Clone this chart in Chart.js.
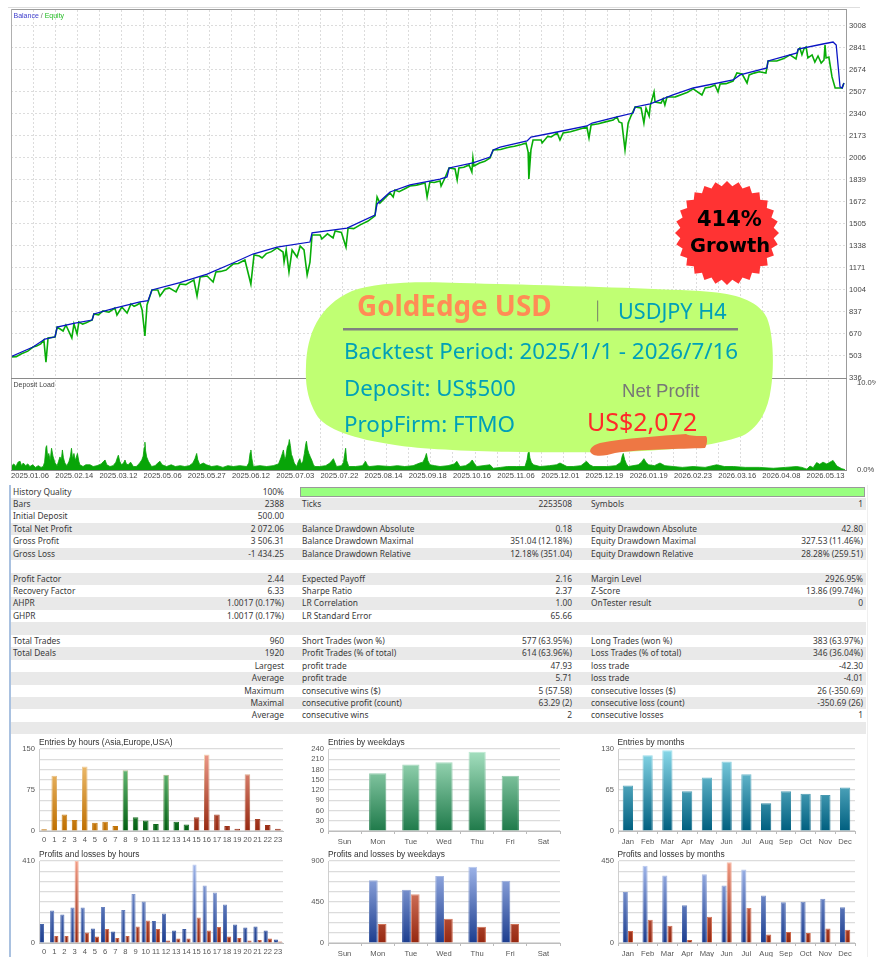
<!DOCTYPE html>
<html>
<head>
<meta charset="utf-8">
<title>GoldEdge USD backtest</title>
<script src="https://cdn.jsdelivr.net/npm/chart.js@4/dist/chart.umd.min.js"></script>
<style>
html, body { margin: 0; padding: 0; background: #fff; }
#page { position: relative; width: 876px; height: 968px; overflow: hidden; background: #fff; }
#page canvas { position: absolute; }
.txt { position: absolute; white-space: nowrap; line-height: 1; }
.box { position: absolute; }
.row { position: absolute; left: 11px; width: 855px; height: 12.44px; font: 8.4px/12.44px "Noto Sans", sans-serif; color: #3a3a3a; }
.row span { position: absolute; top: 0; white-space: nowrap; }
.title { position: absolute; font: 8.4px/1 "Liberation Sans", sans-serif; color: #333; white-space: nowrap; }
</style>
</head>
<body>
<div id="page"></div>
<script>
// equity graph, x in bars, y in account currency
const totalBars = 2388;
const gridStepBars = 63.2;
const yTickLabels = [336, 503, 670, 837, 1004, 1171, 1338, 1505, 1672, 1839, 2006, 2173, 2340, 2507, 2674, 2841, 3008];
const dateLabels = ['2025.01.06', '2025.02.14', '2025.03.12', '2025.05.06', '2025.05.27', '2025.06.12', '2025.07.03', '2025.07.22', '2025.08.14', '2025.09.18', '2025.10.16', '2025.11.06', '2025.12.01', '2025.12.19', '2026.01.19', '2026.02.23', '2026.03.16', '2026.04.08', '2026.05.13'];

const balanceBars = [0, 63, 97, 126, 132, 183, 232, 237, 297, 369, 392, 403, 483, 561, 635, 692, 761, 855, 861, 961, 1041, 1047, 1084, 1141, 1227, 1247, 1253, 1321, 1370, 1379, 1399, 1476, 1487, 1562, 1647, 1662, 1733, 1779, 1785, 1828, 1893, 1951, 2065, 2085, 2162, 2165, 2248, 2251, 2322, 2351, 2360, 2371, 2377, 2382];
const balanceValues = [498, 571, 632, 649, 723, 753, 776, 822, 867, 913, 923, 1004, 1059, 1125, 1209, 1277, 1330, 1368, 1437, 1474, 1573, 1657, 1748, 1801, 1846, 1862, 1930, 1968, 2013, 2067, 2089, 2135, 2165, 2203, 2249, 2271, 2317, 2347, 2393, 2416, 2484, 2537, 2598, 2636, 2689, 2742, 2803, 2833, 2871, 2886, 2863, 2545, 2537, 2575];

const equityBars = [
    0, 15, 30, 48, 63, 73, 85, 94, 100, 106,
    126, 132, 149, 157, 174, 180, 189, 194, 205, 215,
    232, 237, 250, 263, 280, 297, 303, 317, 332, 343,
    352, 360, 369, 375, 383, 389, 403, 420, 426, 440,
    452, 472, 483, 500, 510, 523, 532, 541, 561, 578,
    586, 600, 615, 635, 650, 669, 686, 695, 710, 718,
    730, 745, 761, 778, 781, 787, 795, 804, 818, 827,
    838, 847, 855, 861, 884, 889, 905, 921, 927, 945,
    958, 964, 980, 1000, 1020, 1041, 1047, 1055, 1084, 1093,
    1098, 1110, 1125, 1141, 1160, 1184, 1190, 1198, 1210, 1227,
    1230, 1241, 1253, 1270, 1276, 1281, 1295, 1310, 1318, 1321,
    1324, 1340, 1355, 1370, 1379, 1400, 1415, 1427, 1440, 1460,
    1473, 1479, 1481, 1487, 1493, 1516, 1519, 1535, 1545, 1562,
    1570, 1579, 1600, 1620, 1647, 1653, 1659, 1680, 1700, 1722,
    1733, 1739, 1747, 1756, 1765, 1773, 1785, 1802, 1810, 1816,
    1825, 1828, 1839, 1842, 1859, 1865, 1870, 1876, 1900, 1920,
    1935, 1951, 1976, 1985, 2000, 2013, 2022, 2028, 2045, 2065,
    2076, 2091, 2105, 2111, 2125, 2140, 2159, 2165, 2190, 2210,
    2228, 2245, 2251, 2256, 2262, 2268, 2274, 2279, 2291, 2299,
    2308, 2317, 2325, 2328, 2331, 2339, 2348, 2357, 2377, 2382
];
const equityValues = [
    495, 498, 520, 540, 571, 578, 595, 624, 457, 640,
    647, 723, 693, 738, 640, 746, 670, 761, 745, 755,
    776, 822, 815, 845, 835, 867, 814, 875, 829, 898,
    880, 890, 905, 852, 655, 890, 1004, 1004, 958, 1010,
    1020, 989, 1049, 1045, 1060, 1080, 958, 1103, 1110, 1065,
    1140, 1145, 1155, 1201, 1205, 1232, 1049, 1270, 1262, 1247,
    1280, 1295, 1323, 1292, 1216, 1308, 1141, 1308, 1254, 1338,
    1308, 1118, 1216, 1421, 1421, 1391, 1430, 1399, 1452, 1440,
    1330, 1474, 1470, 1500, 1525, 1566, 1710, 1664, 1740, 1710,
    1763, 1750, 1770, 1793, 1800, 1816, 1710, 1824, 1820, 1831,
    1793, 1854, 1930, 1922, 1839, 1930, 1935, 1953, 1899, 2006,
    1945, 1968, 1980, 2006, 2067, 2070, 2082, 2089, 2095, 2108,
    2120, 2051, 1846, 2067, 2142, 2142, 2120, 2170, 2165, 2196,
    2142, 2196, 2205, 2220, 2241, 2158, 2256, 2265, 2280, 2294,
    2317, 2279, 2271, 2067, 2271, 2324, 2393, 2385, 2271, 2385,
    2324, 2400, 2507, 2431, 2423, 2454, 2408, 2469, 2470, 2490,
    2505, 2530, 2484, 2537, 2545, 2560, 2507, 2567, 2570, 2590,
    2651, 2643, 2575, 2636, 2650, 2660, 2651, 2742, 2742, 2760,
    2788, 2757, 2826, 2840, 2790, 2835, 2848, 2765, 2788, 2734,
    2780, 2727, 2750, 2863, 2765, 2772, 2621, 2537, 2537, 2575
];

// deposit load pane, percent
const depositBars = [
    0, 8, 14, 20, 26, 30, 35, 42, 48, 54, 62, 70, 78, 86, 92, 96, 100, 102, 105, 108,
    112, 116, 120, 126, 132, 136, 140, 144, 147, 150, 154, 160, 166, 170, 173, 176, 180, 184, 190, 194,
    197, 206, 214, 226, 235, 246, 258, 265, 269, 274, 283, 292, 300, 304, 307, 311, 316, 322, 326, 330,
    335, 342, 350, 358, 366, 374, 378, 381, 383, 385, 388, 393, 402, 412, 420, 426, 432, 445, 458, 470,
    484, 497, 510, 520, 526, 531, 534, 540, 550, 559, 574, 590, 606, 620, 636, 654, 674, 680, 684, 686,
    689, 693, 712, 731, 750, 765, 772, 776, 779, 783, 786, 790, 794, 796, 799, 802, 805, 810, 817, 821,
    826, 830, 835, 839, 843, 845, 848, 852, 856, 860, 865, 869, 883, 900, 912, 918, 922, 926, 931, 945,
    951, 955, 957, 960, 966, 985, 1005, 1014, 1020, 1026, 1050, 1084, 1105, 1126, 1150, 1169, 1178, 1184, 1188, 1192,
    1198, 1212, 1227, 1250, 1268, 1275, 1284, 1300, 1312, 1319, 1326, 1332, 1350, 1370, 1379, 1400, 1420, 1446, 1470, 1476,
    1479, 1481, 1484, 1488, 1494, 1513, 1540, 1560, 1570, 1590, 1608, 1630, 1646, 1655, 1665, 1704, 1730, 1744, 1748, 1751,
    1755, 1760, 1765, 1794, 1803, 1810, 1816, 1823, 1840, 1856, 1870, 1894, 1920, 1951, 1985, 2018, 2040, 2066, 2100, 2140,
    2180, 2215, 2247, 2262, 2276, 2285, 2294, 2304, 2313, 2322, 2333, 2351, 2362, 2376, 2385
];
const depositValues = [
    0.4, 0.7, 0.4, 0.9, 1.0, 0.5, 0.8, 0.5, 0.7, 0.4, 0.6, 0.3, 0.5, 0.3, 0.4, 0.9, 2.6, 2.8, 1.4, 1.9,
    1.1, 2.5, 1.6, 0.8, 0.5, 1.0, 1.5, 1.2, 2.3, 1.4, 0.8, 0.5, 1.0, 1.6, 2.5, 1.3, 1.9, 1.1, 1.9, 1.0,
    0.6, 0.4, 0.6, 0.6, 0.4, 0.5, 0.7, 1.0, 1.15, 0.6, 0.4, 0.5, 0.9, 1.4, 1.7, 1.0, 0.6, 0.8, 1.15, 0.7,
    0.6, 0.9, 0.4, 0.4, 0.7, 1.15, 1.6, 2.6, 3.2, 2.2, 1.5, 1.0, 0.4, 0.5, 0.8, 1.0, 0.6, 0.4, 0.6, 0.4,
    0.5, 0.4, 0.5, 0.8, 1.3, 1.9, 1.2, 0.6, 0.8, 0.6, 0.4, 0.5, 0.3, 0.5, 0.4, 0.5, 0.4, 0.8, 2.0, 2.3,
    1.3, 0.4, 0.5, 0.4, 0.5, 0.7, 1.4, 1.9, 2.3, 1.2, 1.5, 2.6, 3.0, 3.5, 2.8, 1.8, 1.5, 0.8, 0.4, 0.9,
    1.3, 0.7, 1.0, 1.9, 3.0, 3.3, 2.4, 1.9, 1.5, 1.15, 0.6, 0.4, 0.4, 0.5, 0.8, 1.1, 1.3, 0.9, 0.4, 0.5,
    0.9, 2.0, 2.5, 1.1, 0.4, 0.4, 0.5, 1.0, 0.5, 0.4, 0.5, 0.4, 0.5, 0.4, 0.5, 0.8, 0.9, 1.4, 1.9, 1.1,
    0.6, 0.5, 0.4, 0.5, 0.7, 1.0, 0.4, 0.5, 0.8, 1.15, 0.7, 0.4, 0.5, 0.6, 0.2, 0.3, 0.4, 0.4, 0.4, 1.2,
    2.0, 2.3, 1.4, 0.9, 0.6, 0.4, 0.5, 0.6, 0.8, 0.4, 0.4, 0.5, 1.0, 0.6, 0.4, 0.4, 0.5, 0.9, 1.6, 1.9,
    1.2, 0.7, 0.4, 0.6, 0.9, 1.3, 0.9, 0.6, 0.5, 0.8, 0.5, 0.4, 0.3, 0.4, 0.3, 0.6, 0.4, 0.4, 0.3, 0.3,
    0.2, 0.3, 0.4, 0.3, 0.1, 0.45, 0.27, 0.85, 0.65, 0.9, 0.7, 1.1, 0.45, 0.15, 0.05
];

// report table, one list per column
const labelsLeft = ['History Quality', 'Bars', 'Initial Deposit', 'Total Net Profit', 'Gross Profit', 'Gross Loss', '', 'Profit Factor', 'Recovery Factor', 'AHPR', 'GHPR', '', 'Total Trades', 'Total Deals', '', '', '', '', '', ''];
const valuesLeft = ['100%', '2388', '500.00', '2 072.06', '3 506.31', '-1 434.25', '', '2.44', '6.33', '1.0017 (0.17%)', '1.0017 (0.17%)', '', '960', '1920', 'Largest', 'Average', 'Maximum', 'Maximal', 'Average', ''];
const labelsMid = ['', 'Ticks', '', 'Balance Drawdown Absolute', 'Balance Drawdown Maximal', 'Balance Drawdown Relative', '', 'Expected Payoff', 'Sharpe Ratio', 'LR Correlation', 'LR Standard Error', '', 'Short Trades (won %)', 'Profit Trades (% of total)', 'profit trade', 'profit trade', 'consecutive wins ($)', 'consecutive profit (count)', 'consecutive wins', ''];
const valuesMid = ['', '2253508', '', '0.18', '351.04 (12.18%)', '12.18% (351.04)', '', '2.16', '2.37', '1.00', '65.66', '', '577 (63.95%)', '614 (63.96%)', '47.93', '5.71', '5 (57.58)', '63.29 (2)', '2', ''];
const labelsRight = ['', 'Symbols', '', 'Equity Drawdown Absolute', 'Equity Drawdown Maximal', 'Equity Drawdown Relative', '', 'Margin Level', 'Z-Score', 'OnTester result', '', '', 'Long Trades (won %)', 'Loss Trades (% of total)', 'loss trade', 'loss trade', 'consecutive losses ($)', 'consecutive loss (count)', 'consecutive losses', ''];
const valuesRight = ['', '1', '', '42.80', '327.53 (11.46%)', '28.28% (259.51)', '', '2926.95%', '13.86 (99.74%)', '0', '', '', '383 (63.97%)', '346 (36.04%)', '-42.30', '-4.01', '26 (-350.69)', '-350.69 (26)', '1', ''];

// small histograms at the bottom
const hours = ['0', '1', '2', '3', '4', '5', '6', '7', '8', '9', '10', '11', '12', '13', '14', '15', '16', '17', '18', '19', '20', '21', '22', '23'];
const weekdays = ['Sun', 'Mon', 'Tue', 'Wed', 'Thu', 'Fri', 'Sat'];
const months = ['Jan', 'Feb', 'Mar', 'Apr', 'May', 'Jun', 'Jul', 'Aug', 'Sep', 'Oct', 'Nov', 'Dec'];

const entriesHours = [3, 101, 30, 20, 118, 15, 17, 9, 111, 25, 19, 13, 103, 17, 12, 25, 140, 30, 9, 4, 104, 22, 11, 4];
const profitHours = [95, 162, 143, 178, 178, 72, 180, 58, 165, 245, 208, 110, 148, 62, 70, 393, 288, 252, 192, 93, 77, 82, 63, 17];
const lossHours = [3, 35, 35, 410, 53, 32, 70, 25, 35, 83, 113, 70, 12, 22, 22, 127, 63, 80, 32, 25, 12, 15, 22, 7];

const entriesWeekdays = [0, 169, 195, 201, 232, 162, 0];
const profitWeekdays = [0, 688, 585, 735, 838, 684, 0];
const lossWeekdays = [0, 209, 534, 267, 179, 209, 0];

const entriesMonths = [72, 120, 128, 63, 85, 110, 90, 44, 63, 59, 57, 69];
const profitMonths = [280, 424, 371, 207, 377, 316, 404, 260, 223, 227, 243, 196];
const lossMonths = [66, 128, 95, 16, 144, 443, 192, 46, 60, 55, 80, 73];

const page = document.getElementById('page');
const CHART_FONT = 'Liberation Sans';

function addText(str, left, centerY, size, color, font, weight) {
    const el = document.createElement('div');
    el.className = 'txt';
    el.textContent = str;
    el.style.left = left + 'px';
    el.style.top = (centerY - size / 2) + 'px';
    el.style.fontSize = size + 'px';
    el.style.color = color;
    el.style.fontFamily = font;
    if (weight) el.style.fontWeight = weight;
    page.appendChild(el);
    return el;
}

function addBox(left, top, width, height, color) {
    const el = document.createElement('div');
    el.className = 'box';
    el.style.cssText = 'left:' + left + 'px;top:' + top + 'px;width:' + width + 'px;height:' + height + 'px;background:' + color;
    page.appendChild(el);
    return el;
}

function addCanvas(left, top, width, height) {
    const c = document.createElement('canvas');
    c.width = width;
    c.height = height;
    c.style.left = left + 'px';
    c.style.top = top + 'px';
    c.style.width = width + 'px';
    c.style.height = height + 'px';
    page.appendChild(c);
    return c;
}

function toPoints(xs, ys) {
    return xs.map(function (x, i) { return { x: x, y: ys[i] }; });
}

// vertical dotted grid shared by both panes
function gridTicks(axis) {
    const list = [];
    for (let v = 0; v <= totalBars; v += gridStepBars) list.push({ value: v });
    axis.ticks = list;
}

// the scales reserve room for half a label at each end, the plots here must fill their area
function noPadding(s) {
    s.paddingLeft = s.paddingRight = s.paddingTop = s.paddingBottom = 0;
    if (s._margins) s._margins.left = s._margins.right = s._margins.top = s._margins.bottom = 0;
}

const baseOptions = {
    responsive: false,
    animation: false,
    devicePixelRatio: 1,
    plugins: { legend: { display: false }, title: { display: false }, tooltip: { enabled: false } },
    elements: { point: { radius: 0 } }
};

/* ---------- report table ---------- */
labelsLeft.forEach(function (label, i) {
    const row = document.createElement('div');
    row.className = 'row';
    row.style.top = (485.5 + i * 12.44) + 'px';
    row.style.background = i % 2 ? '#e9e9e9' : '#fff';
    const cells = [
        [label, 'left:2px'], [valuesLeft[i], 'right:582px'],
        [labelsMid[i], 'left:291px'], [valuesMid[i], 'right:294px'],
        [labelsRight[i], 'left:580px'], [valuesRight[i], 'right:3px']
    ];
    cells.forEach(function (cell) {
        if (!cell[0]) return;
        const s = document.createElement('span');
        s.textContent = cell[0];
        s.style.cssText = cell[1];
        row.appendChild(s);
    });
    page.appendChild(row);
});
// history quality bar, left rail and right rail
const qualityBar = addBox(300, 486.5, 565, 10.5, '#99ff80');
qualityBar.style.boxSizing = 'border-box';
qualityBar.style.border = '1px solid #9a9a9a';
addBox(8.5, 485, 2, 472, '#a9c1e0');
addBox(866.5, 485, 1, 472, '#efefef');

/* ---------- balance / equity pane ---------- */
new Chart(addCanvas(0, 0, 876, 380), {
    type: 'line',
    data: {
        datasets: [
            { label: 'Balance', data: toPoints(balanceBars, balanceValues), borderColor: '#0a14c4', borderWidth: 1.3, order: 1 },
            { label: 'Equity', data: toPoints(equityBars, equityValues), borderColor: '#08ad08', borderWidth: 1.6, order: 2 }
        ]
    },
    options: Object.assign({}, baseOptions, {
        layout: { autoPadding: false, padding: { left: 11, top: 10, right: 0, bottom: 0 } },
        scales: {
            x: {
                type: 'linear', min: 0, max: totalBars,
                afterBuildTicks: gridTicks,
                afterFit: function (s) { s.height = 2; noPadding(s); },
                ticks: { display: false },
                grid: { color: '#dcdcdc', lineWidth: 1, drawTicks: false },
                border: { display: false, dash: [2, 2] }
            },
            y: {
                position: 'right', min: 336, max: 3129,
                afterBuildTicks: function (axis) { axis.ticks = yTickLabels.map(function (v) { return { value: v }; }); },
                afterFit: function (s) { s.width = 30; noPadding(s); },
                ticks: { autoSkip: false, padding: 3, color: '#444', font: { family: CHART_FONT, size: 7.6 }, callback: function (v) { return String(v); } },
                grid: { color: '#dcdcdc', lineWidth: 1, drawTicks: false },
                border: { display: false, dash: [2, 2] }
            }
        }
    })
});

/* ---------- deposit load pane ---------- */
new Chart(addCanvas(0, 378, 876, 104), {
    type: 'line',
    data: {
        datasets: [{ label: 'Deposit Load', data: toPoints(depositBars, depositValues), borderColor: '#08a508', borderWidth: 0.8, backgroundColor: '#08a508', fill: 'origin' }]
    },
    options: Object.assign({}, baseOptions, {
        layout: { autoPadding: false, padding: { left: 11, top: 2, right: 0, bottom: 0 } },
        scales: {
            x: {
                type: 'linear', min: 0, max: totalBars,
                afterBuildTicks: gridTicks,
                afterFit: function (s) { s.height = 12; noPadding(s); },
                ticks: {
                    autoSkip: false, maxRotation: 0, align: 'start', padding: 1, color: '#444',
                    font: { family: CHART_FONT, size: 7.6 },
                    callback: function (v, i) { return i % 2 === 0 ? dateLabels[i / 2] : ''; }
                },
                grid: { color: '#dcdcdc', lineWidth: 1, drawTicks: false },
                border: { display: false, dash: [2, 2] }
            },
            y: {
                position: 'right', min: 0, max: 10.34,
                afterBuildTicks: function (axis) { axis.ticks = [{ value: 0 }, { value: 10 }]; },
                afterFit: function (s) { s.width = 30; noPadding(s); },
                ticks: { autoSkip: false, padding: 3, color: '#444', font: { family: CHART_FONT, size: 7.6 }, callback: function (v) { return v.toFixed(1) + '%'; } },
                grid: { display: false },
                border: { display: false }
            }
        }
    })
});

// pane frame
addBox(8, 7, 852, 1, '#dedede');
addBox(10.5, 9, 836, 1, '#9c9c9c');
addBox(10.5, 9, 1.6, 462, '#b0b0b0');
addBox(846, 9, 1, 462, '#9c9c9c');
addBox(10.5, 377.6, 836, 1.6, '#8a8a8a');
addBox(10.5, 470, 836, 1, '#8a8a8a');

const legendEl = addText('', 13.5, 15.5, 7, '#3a3aff', CHART_FONT);
legendEl.innerHTML = '<span style="color:#3c3ccc">Balance</span> <span style="color:#666">/</span> <span style="color:#22bb22">Equity</span>';
addText('Deposit Load', 13.5, 384.5, 7, '#444', CHART_FONT);

/* ---------- histograms ---------- */
function barFill(top, bottom) {
    return function (c) {
        const area = c.chart.chartArea;
        if (!area) return bottom;
        const g = c.chart.ctx.createLinearGradient(0, area.top, 0, area.bottom);
        g.addColorStop(0, top);
        g.addColorStop(1, bottom);
        return g;
    };
}

function histogram(cfg) {
    const w = cfg.right - cfg.left;
    const h = cfg.bottom - cfg.top;
    const chart = new Chart(addCanvas(cfg.left - 32, cfg.top - 5, w + 34, h + 19), {
        type: 'bar',
        data: { labels: cfg.labels, datasets: cfg.datasets },
        options: Object.assign({}, baseOptions, {
            layout: { autoPadding: false, padding: { left: 0, top: 5, right: 2, bottom: 0 } },
            scales: {
                x: {
                    afterFit: function (s) { s.height = 14; noPadding(s); },
                    ticks: { autoSkip: false, maxRotation: 0, padding: cfg.xTicks ? 3 : 4, color: '#555', font: { family: CHART_FONT, size: 7.6 } },
                    grid: { drawOnChartArea: false, drawTicks: !!cfg.xTicks, tickLength: 3, color: '#bbb', offset: true },
                    border: { display: true, color: '#bdbdbd' }
                },
                y: {
                    min: 0, max: cfg.max,
                    afterBuildTicks: function (axis) {
                        const list = [];
                        for (let i = 0; i <= 8; i++) list.push({ value: cfg.max * i / 8 });
                        axis.ticks = list;
                    },
                    afterFit: function (s) { s.width = 32; noPadding(s); },
                    ticks: {
                        autoSkip: false, padding: 4, color: '#555', font: { family: CHART_FONT, size: 7.6 },
                        callback: function (v, i) { return i % cfg.labelEvery === 0 ? v : ''; }
                    },
                    grid: { color: '#dcdcdc', lineWidth: 1.2, drawTicks: false },
                    border: { display: true, color: '#cfcfcf' }
                }
            }
        })
    });
    const t = document.createElement('div');
    t.className = 'title';
    t.textContent = cfg.title;
    t.style.left = cfg.left + 'px';
    t.style.top = (cfg.top - 11) + 'px';
    page.appendChild(t);
    return chart;
}

function singleSeries(values, top, bottom, edgeTop, percent) {
    return [{
        data: values,
        backgroundColor: barFill(top, bottom),
        borderColor: barFill(edgeTop, bottom),
        borderWidth: 1,
        barPercentage: percent,
        categoryPercentage: 1
    }];
}

function pairSeries(profit, loss, category) {
    return [
        { data: profit, backgroundColor: barFill('#a6bbee', '#1c3d8e'), borderColor: barFill('#c4d2f4', '#254796'), borderWidth: 1, barPercentage: 1, categoryPercentage: category },
        { data: loss, backgroundColor: barFill('#f29c84', '#952710'), borderColor: barFill('#f8c0ae', '#c45a3c'), borderWidth: 1, barPercentage: 1, categoryPercentage: category }
    ];
}

// hour colours follow the three trading sessions
const hourFill = hours.map(function (h, i) { return i < 8 ? ['#f6cb84', '#bf6f00'] : i < 15 ? ['#84d494', '#005f10'] : ['#f2a090', '#962810']; });
const hourSeries = singleSeries(entriesHours, '#000', '#000', '#000', 0.55);
hourSeries[0].backgroundColor = function (c) { return barFill(hourFill[c.dataIndex][0], hourFill[c.dataIndex][1])(c); };
hourSeries[0].borderColor = function (c) { return barFill('#fbe6c4', hourFill[c.dataIndex][1])(c); };

histogram({ title: 'Entries by hours (Asia,Europe,USA)', left: 39, right: 283, top: 748.7, bottom: 831, labels: hours, max: 150, labelEvery: 4, datasets: hourSeries });
histogram({ title: 'Profits and losses by hours', left: 39, right: 283, top: 860.7, bottom: 942.7, labels: hours, max: 410, labelEvery: 8, datasets: pairSeries(profitHours, lossHours, 0.82) });
histogram({ title: 'Entries by weekdays', left: 328, right: 560, top: 748.7, bottom: 831, labels: weekdays, max: 240, labelEvery: 1, xTicks: true, datasets: singleSeries(entriesWeekdays, '#a8e2c2', '#1f7a4a', '#c4eed8', 0.52) });
histogram({ title: 'Profits and losses by weekdays', left: 328, right: 560, top: 860.7, bottom: 942.7, labels: weekdays, max: 900, labelEvery: 4, xTicks: true, datasets: pairSeries(profitWeekdays, lossWeekdays, 0.53) });
histogram({ title: 'Entries by months', left: 617.5, right: 855, top: 748.7, bottom: 831, labels: months, max: 130, labelEvery: 4, xTicks: true, datasets: singleSeries(entriesMonths, '#8adaea', '#005f7f', '#a8e6f2', 0.52) });
histogram({ title: 'Profits and losses by months', left: 617.5, right: 855, top: 860.7, bottom: 942.7, labels: months, max: 450, labelEvery: 8, xTicks: true, datasets: pairSeries(profitMonths, lossMonths, 0.52) });

/* ---------- promo overlay ---------- */
const NS = 'http://www.w3.org/2000/svg';
const svg = document.createElementNS(NS, 'svg');
svg.setAttribute('width', 876);
svg.setAttribute('height', 968);
svg.style.cssText = 'position:absolute;left:0;top:0';
page.appendChild(svg);

function svgPath(d, fill) {
    const p = document.createElementNS(NS, 'path');
    p.setAttribute('d', d);
    p.setAttribute('fill', fill);
    svg.appendChild(p);
}
svgPath('M306 366 C307 335 318 306 352 291 C375 283 410 281 460 283 C540 285 640 288 700 291 C735 293 758 300 767 318 C774 335 774 370 771 388 C768 412 758 428 742 436 C715 446 670 451 610 452 C540 453 440 452 395 445 C355 439 325 430 316 414 C308 400 305 385 306 366 Z', '#c0ff73');
svgPath('M343 328h395v2.4h-395z', '#808080');
svgPath('M597 300.5h1.2v21h-1.2z', '#82916a');
svgPath('M590 451 C591 447 594 445 600 443 C625 438 660 436 686 434 C690 436 697 436 706 436 C708 438 707 445 705 448 C680 449 640 449 615 453 C605 456 592 458 590 451 Z', '#ee7744');

// starburst badge
let star = '';
const starPoints = 28;
for (let i = 0; i < starPoints * 2; i++) {
    const r = i % 2 ? 47 : 52;
    const a = Math.PI * i / starPoints - Math.PI / 2;
    star += (i ? 'L' : 'M') + (727 + r * Math.cos(a)).toFixed(1) + ' ' + (233 + r * Math.sin(a)).toFixed(1);
}
svgPath(star + 'Z', '#ff3333');

addText('414%', 697, 219, 21, '#000', 'DejaVu Sans', 'bold');
addText('Growth', 690, 246, 19.5, '#000', 'DejaVu Sans', 'bold');
addText('GoldEdge USD', 357, 306, 27.8, '#ff8c55', 'Noto Sans', 'bold');
addText('USDJPY H4', 618, 311, 21.6, '#00a0b8', 'Noto Sans');
addText('Backtest Period: 2025/1/1 - 2026/7/16', 344, 351, 22.4, '#00a0b8', 'Noto Sans');
addText('Deposit: US$500', 344, 388, 22.3, '#00a0b8', 'Noto Sans');
addText('PropFirm: FTMO', 344, 424, 22.4, '#00a0b8', 'Noto Sans');
addText('Net Profit', 622, 391, 18.6, '#777', 'Liberation Sans');
addText('US$2,072', 587, 421, 25, '#ff2a2a', 'Noto Sans');
</script>
</body>
</html>
